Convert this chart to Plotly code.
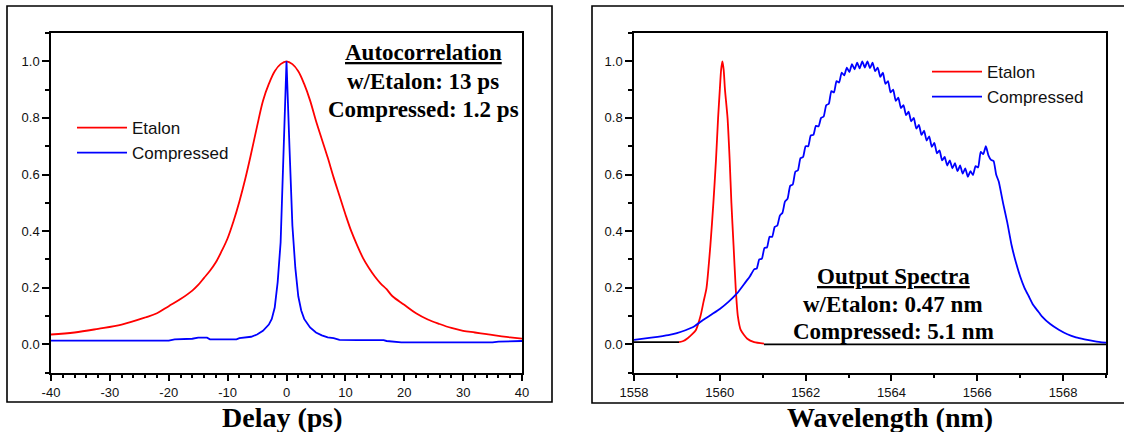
import plotly.graph_objects as go

# ---------------- data: autocorrelation (left) ----------------
ac_etalon_delay = [-40, -36, -32, -28, -24, -22, -20, -18, -16, -15, -14, -13, -12, -11, -10, -9, -8, -7, -6, -5,
                   -4, -3, -2, -1, 0, 1, 2, 3, 4, 5, 6, 7, 8, 9, 10, 11, 12, 13, 14, 15, 16, 17, 18, 20, 22, 24,
                   26, 28, 30, 32, 34, 36, 38, 40]
ac_etalon_val = [0.035, 0.042, 0.055, 0.070, 0.095, 0.110, 0.135, 0.160, 0.190, 0.210, 0.235, 0.260, 0.290, 0.330,
                 0.375, 0.435, 0.505, 0.585, 0.675, 0.770, 0.860, 0.920, 0.965, 0.990, 1.000, 0.990, 0.965, 0.920,
                 0.862, 0.790, 0.725, 0.660, 0.590, 0.525, 0.460, 0.400, 0.350, 0.305, 0.270, 0.240, 0.215, 0.195,
                 0.170, 0.140, 0.110, 0.088, 0.072, 0.058, 0.048, 0.042, 0.036, 0.030, 0.025, 0.020]

ac_comp_delay = [-40, -20, -19, -16, -15, -13.5, -13, -8.5, -8, -6, -5, -4, -3, -2.5, -2, -1.5, -1, -0.5, 0,
                 0.5, 1, 1.5, 2, 2.5, 3, 4, 5, 6, 7, 8, 9, 12, 16.5, 17, 19, 19.5, 35, 36, 40]
ac_comp_val = [0.013, 0.013, 0.018, 0.020, 0.024, 0.024, 0.018, 0.018, 0.022, 0.027, 0.035, 0.048, 0.070, 0.090,
               0.130, 0.220, 0.360, 0.650, 1.000, 0.700, 0.420, 0.270, 0.170, 0.120, 0.090, 0.060, 0.042, 0.032,
               0.025, 0.022, 0.016, 0.015, 0.015, 0.012, 0.010, 0.007, 0.007, 0.010, 0.012]

# ---------------- data: output spectra (right) ----------------
sp_etalon_wl = [1559.05, 1559.15, 1559.25, 1559.35, 1559.44, 1559.55, 1559.62, 1559.69, 1559.78, 1559.85,
                1559.91, 1559.96, 1560.00, 1560.03, 1560.06, 1560.09, 1560.12, 1560.18, 1560.23, 1560.27,
                1560.32, 1560.37, 1560.42, 1560.49, 1560.64, 1560.80, 1561.03]
sp_etalon_val = [0.008, 0.012, 0.022, 0.035, 0.050, 0.100, 0.150, 0.200, 0.350, 0.500, 0.650, 0.800, 0.900,
                 0.970, 1.000, 0.970, 0.900, 0.800, 0.650, 0.500, 0.350, 0.200, 0.100, 0.050, 0.020, 0.008, 0.003]

baseline_left_wl = [1558.0, 1559.05]
baseline_left_val = [0.008, 0.008]
baseline_right_wl = [1561.03, 1569.0]
baseline_right_val = [0.0, 0.0]

sp_comp_wl = [1558.0, 1558.4, 1558.8, 1559.0, 1559.2, 1559.4, 1559.6, 1559.8, 1560.0, 1560.2, 1560.4, 1560.6,
              1560.7,
              1560.80, 1560.86, 1560.92, 1560.98, 1561.04, 1561.10, 1561.16, 1561.22, 1561.28, 1561.34,
              1561.40, 1561.46, 1561.52, 1561.58, 1561.64, 1561.70, 1561.76, 1561.82, 1561.88, 1561.94,
              1562.00, 1562.06, 1562.12, 1562.18, 1562.24, 1562.30, 1562.36, 1562.42, 1562.48, 1562.54,
              1562.60, 1562.66, 1562.72, 1562.78, 1562.84, 1562.90, 1562.96, 1563.02, 1563.08, 1563.14,
              1563.20, 1563.26, 1563.32, 1563.38, 1563.44, 1563.50, 1563.56, 1563.62, 1563.68, 1563.74,
              1563.80, 1563.86, 1563.92, 1563.98, 1564.04, 1564.10, 1564.16, 1564.22, 1564.28, 1564.34,
              1564.40, 1564.46, 1564.52, 1564.58, 1564.64, 1564.70, 1564.76, 1564.82, 1564.88, 1564.94,
              1565.00, 1565.06, 1565.12, 1565.18, 1565.24, 1565.30, 1565.36, 1565.42, 1565.48, 1565.54,
              1565.60, 1565.66, 1565.72, 1565.78, 1565.84, 1565.90, 1565.96, 1566.02, 1566.08, 1566.14,
              1566.20, 1566.26, 1566.32, 1566.38, 1566.44, 1566.50,
              1566.6, 1566.7, 1566.8, 1566.9, 1567.0, 1567.1, 1567.2, 1567.3, 1567.4, 1567.5, 1567.7, 1567.9,
              1568.1, 1568.3, 1568.5, 1568.75, 1569.0]
sp_comp_val = [0.016, 0.024, 0.033, 0.040, 0.050, 0.063, 0.085, 0.105, 0.125, 0.150, 0.180, 0.220,
               0.240,
               0.265, 0.268, 0.300, 0.303, 0.340, 0.343, 0.380, 0.380, 0.415, 0.420,
               0.455, 0.465, 0.505, 0.515, 0.560, 0.565, 0.610, 0.615, 0.658, 0.662,
               0.700, 0.700, 0.738, 0.740, 0.772, 0.770, 0.800, 0.805, 0.845, 0.850,
               0.895, 0.890, 0.930, 0.925, 0.960, 0.950, 0.978, 0.962, 0.990, 0.972,
               0.995, 0.975, 1.000, 0.978, 1.000, 0.976, 0.995, 0.965, 0.978, 0.945,
               0.960, 0.920, 0.930, 0.890, 0.900, 0.860, 0.872, 0.835, 0.845, 0.810,
               0.822, 0.788, 0.800, 0.762, 0.775, 0.740, 0.755, 0.720, 0.735, 0.698,
               0.712, 0.675, 0.685, 0.650, 0.662, 0.632, 0.650, 0.622, 0.640, 0.612,
               0.632, 0.603, 0.622, 0.592, 0.612, 0.598, 0.630, 0.625, 0.680, 0.672,
               0.700, 0.668, 0.652, 0.648, 0.600, 0.575,
               0.500, 0.430, 0.350, 0.290, 0.240, 0.200, 0.170, 0.140, 0.120, 0.100, 0.072, 0.052,
               0.036, 0.025, 0.018, 0.011, 0.006]

ac_xticks = [-40, -30, -20, -10, 0, 10, 20, 30, 40]
ac_xticktext = ["-40", "-30", "-20", "-10", "0", "10", "20", "30", "40"]
sp_xticks = [1558, 1560, 1562, 1564, 1566, 1568]
yticks = [0.0, 0.2, 0.4, 0.6, 0.8, 1.0]

# ---------------- figure ----------------
W, H = 1124, 432
RED = "#ff0000"
BLUE = "#0000ff"
SANS = "Liberation Sans, Arial, sans-serif"
SERIF = "Liberation Serif, Times New Roman, serif"
LW = 1.8


def px(x):
    return x / W


def py(y):
    return (H - y) / H


fig = go.Figure()

fig.add_trace(go.Scatter(x=ac_etalon_delay, y=ac_etalon_val, mode="lines", name="Etalon",
                         line=dict(color=RED, width=LW, shape="spline", smoothing=1.0),
                         xaxis="x", yaxis="y", legend="legend"))
fig.add_trace(go.Scatter(x=ac_comp_delay, y=ac_comp_val, mode="lines", name="Compressed",
                         line=dict(color=BLUE, width=LW),
                         xaxis="x", yaxis="y", legend="legend"))

fig.add_trace(go.Scatter(x=baseline_left_wl, y=baseline_left_val, mode="lines", showlegend=False,
                         line=dict(color="black", width=LW), xaxis="x2", yaxis="y2"))
fig.add_trace(go.Scatter(x=baseline_right_wl, y=baseline_right_val, mode="lines", showlegend=False,
                         line=dict(color="black", width=LW), xaxis="x2", yaxis="y2"))
fig.add_trace(go.Scatter(x=sp_etalon_wl, y=sp_etalon_val, mode="lines", name="Etalon",
                         line=dict(color=RED, width=LW, shape="spline", smoothing=0.6),
                         xaxis="x2", yaxis="y2", legend="legend2"))
fig.add_trace(go.Scatter(x=sp_comp_wl, y=sp_comp_val, mode="lines", name="Compressed",
                         line=dict(color=BLUE, width=LW, shape="spline", smoothing=0.5),
                         xaxis="x2", yaxis="y2", legend="legend2"))

ydom = [py(372.7), py(33)]

axis_common = dict(showline=True, linecolor="black", linewidth=1.5, mirror=True,
                   ticks="outside", ticklen=7, tickwidth=1.5, tickcolor="black",
                   showgrid=False, zeroline=False,
                   tickfont=dict(family=SANS, size=13, color="#111"))
minor_common = dict(ticklen=4, tickwidth=1.5, ticks="outside", tickcolor="black")

fig.update_layout(
    width=W, height=H, autosize=False,
    margin=dict(l=0, r=0, t=0, b=0, autoexpand=False),
    paper_bgcolor="white", plot_bgcolor="white",
    xaxis=dict(domain=[px(51), px(522)], range=[-40, 40], tickvals=ac_xticks, ticktext=ac_xticktext,
               anchor="y", minor=dict(dtick=2, **minor_common), **axis_common),
    yaxis=dict(domain=ydom, range=[-0.1, 1.1], tickvals=yticks, tickformat=".1f", anchor="x",
               minor=dict(dtick=0.1, **minor_common), **axis_common),
    xaxis2=dict(domain=[px(634), px(1106)], range=[1558, 1569], tickvals=sp_xticks, tickformat="d",
                anchor="y2", minor=dict(dtick=1, **minor_common), **axis_common),
    yaxis2=dict(domain=ydom, range=[-0.1, 1.1], tickvals=yticks, tickformat=".1f", anchor="x2",
                minor=dict(dtick=0.1, **minor_common), **axis_common),
    legend=dict(x=px(72), y=py(110), xanchor="left", yanchor="top", bgcolor="rgba(0,0,0,0)",
                font=dict(family=SANS, size=17, color="#111"), itemwidth=50, tracegroupgap=0),
    legend2=dict(x=px(927), y=py(54), xanchor="left", yanchor="top", bgcolor="rgba(0,0,0,0)",
                 font=dict(family=SANS, size=17, color="#111"), itemwidth=50, tracegroupgap=0),
    showlegend=True,
)

# outer frames around each panel
fig.add_shape(type="rect", xref="paper", yref="paper", x0=px(7), x1=px(552), y0=py(402), y1=py(6),
              line=dict(color="black", width=1.6), layer="below")
fig.add_shape(type="rect", xref="paper", yref="paper", x0=px(592), x1=px(1140), y0=py(403), y1=py(6),
              line=dict(color="black", width=1.6), layer="below")

ann_font = dict(family=SERIF, size=23, color="black")
left_lines = ["<b><u>Autocorrelation</u></b>", "<b>w/Etalon: 13 ps</b>", "<b>Compressed: 1.2 ps</b>"]
left_y = [52.5, 82, 109.5]
for t, yy in zip(left_lines, left_y):
    fig.add_annotation(text=t, xref="paper", yref="paper", x=px(423), y=py(yy), xanchor="center",
                       yanchor="middle", showarrow=False, font=ann_font)

right_lines = ["<b><u>Output Spectra</u></b>", "<b>w/Etalon: 0.47 nm</b>", "<b>Compressed: 5.1 nm</b>"]
right_y = [276, 304, 331.5]
for t, yy in zip(right_lines, right_y):
    fig.add_annotation(text=t, xref="paper", yref="paper", x=px(893), y=py(yy), xanchor="center",
                       yanchor="middle", showarrow=False, font=ann_font)

title_font = dict(family=SERIF, size=28, color="black")
fig.add_annotation(text="<b>Delay (ps)</b>", xref="paper", yref="paper", x=px(282), y=py(417),
                   xanchor="center", yanchor="middle", showarrow=False, font=title_font)
fig.add_annotation(text="<b>Wavelength (nm)</b>", xref="paper", yref="paper", x=px(890), y=py(417),
                   xanchor="center", yanchor="middle", showarrow=False, font=title_font)

fig.write_html("out.html", config={"displayModeBar": False},
               post_script="document.body.style.margin='0';")
